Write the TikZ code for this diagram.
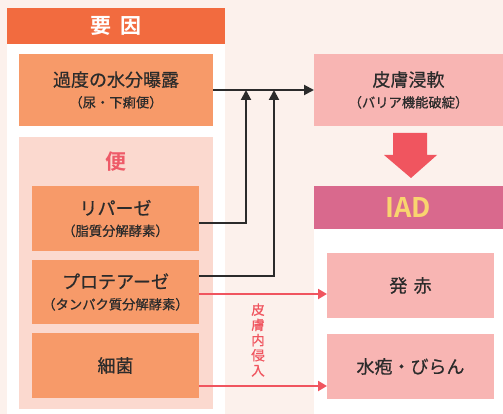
\documentclass[tikz,border=0pt]{standalone}
\usepackage{fontspec}
\setmainfont{Noto Sans CJK JP}[BoldFont=* Bold]
\newfontfamily\medfont{Noto Sans CJK JP}[FakeBold=0.6]
\usetikzlibrary{arrows.meta}
\definecolor{cream}{HTML}{FCF1EC}
\definecolor{hdr}{HTML}{F26B3F}
\definecolor{obox}{HTML}{F79A69}
\definecolor{palepink}{HTML}{FBD9CF}
\definecolor{skin}{HTML}{F8B5B3}
\definecolor{iadc}{HTML}{D9698D}
\definecolor{redarr}{HTML}{F0555F}
\definecolor{bentxt}{HTML}{EE5A68}
\definecolor{iadtxt}{HTML}{F9D46F}
\definecolor{txt}{HTML}{2B2B2B}
\tikzset{
  box/.style={inner sep=0pt, outer sep=0pt, align=center, text=txt},
  orangebox/.style={box, fill=obox},
  skinbox/.style={box, fill=skin},
  big/.style={font=\medfont\fontsize{18}{20}\selectfont},
  blkline/.style={draw=txt, line width=2pt},
  redline/.style={draw=redarr, line width=2pt, -{Triangle[length=9pt,width=10pt]}},
  uparrow/.style={blkline, -{Triangle[length=10pt,width=10pt]}},
}
\newcommand{\subl}[1]{{\fontsize{13.3}{14}\selectfont #1}}
\begin{document}
\begin{tikzpicture}[x=1pt,y=-1pt]
\useasboundingbox (0,0) rectangle (503,414);
% backgrounds
\fill[cream] (0,0) rectangle (503,414);
\fill[white] (7,8) rectangle (225,414);
\fill[white] (314,186) rectangle (503,414);
\node[box, fill=hdr, minimum width=218, minimum height=36, text=white,
  font=\fontsize{21}{24}\selectfont\bfseries] (youin) at (116,26) {要\hspace{0.4em}因};
\node[box, fill=palepink, minimum width=194, minimum height=272] (benpanel) at (116,273) {};
\node[box, text=bentxt, font=\fontsize{21}{24}\selectfont\bfseries] (ben) at (116,162) {便};
% left boxes
\node[orangebox, big, minimum width=194, minimum height=72] (kado) at (116,90)
  {過度の水分曝露\\[1pt]\subl{（尿・下痢便）}};
\node[orangebox, big, minimum width=167, minimum height=65] (lip) at (115.5,218.5)
  {リパーゼ\\[1pt]\subl{（脂質分解酵素）}};
\node[orangebox, big, minimum width=167, minimum height=64] (prot) at (115.5,292)
  {プロテアーゼ\\[1pt]\subl{（タンパク質分解酵素）}};
\node[orangebox, big, minimum width=167, minimum height=65] (bact) at (115.5,365.5)
  {細菌};
% right boxes
\node[skinbox, big, minimum width=189, minimum height=72] (hifu) at (408.5,90)
  {皮膚浸軟\\[1pt]\subl{（バリア機能破綻）}};
\node[box, fill=iadc, minimum width=189, minimum height=43, text=iadtxt,
  font=\fontsize{27}{30}\selectfont\bfseries] (iad) at (408.5,207.5) {IAD};
\node[skinbox, big, minimum width=167, minimum height=65] (hoss) at (410.5,285.5) {発\hspace{0.35em}赤};
\node[skinbox, big, minimum width=167, minimum height=65] (suih) at (410.5,366.5) {水疱・びらん};
% black connectors
\coordinate (j1) at (246,90);
\coordinate (j2) at (274,90);
\draw[blkline, -{Triangle[length=10pt,width=10pt]}] (kado.east) -- (hifu.west);
\coordinate (l1) at ([yshift=-4.5pt]lip.east);
\coordinate (p1) at ([yshift=16pt]prot.east);
\draw[uparrow] (l1) -| (j1);
\draw[uparrow] (p1) -| (j2);
% red connectors
\coordinate (p2) at ([yshift=-2pt]prot.east);
\coordinate (b2) at ([yshift=-20.5pt]bact.east);
\draw[redline] (p2) -- (p2 -| hoss.west);
\draw[redline] (b2) -- (b2 -| suih.west);
\node[text=redarr, align=center, inner sep=0pt, font=\medfont\fontsize{13.5}{15.2}\selectfont] (shin) at (258,340)
  {皮\\膚\\内\\侵\\入};
% big down arrow
\fill[redarr] (393,133) -- (427,133) -- (427,155) -- (437,155) -- (411,178)
  -- (384,155) -- (393,155) -- cycle;
\end{tikzpicture}
\end{document}
